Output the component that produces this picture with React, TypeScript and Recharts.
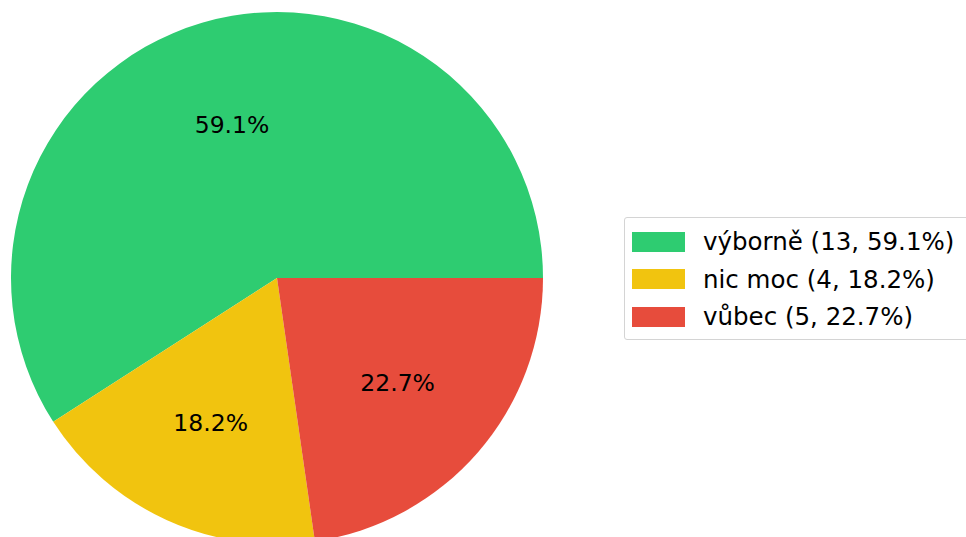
import { Cell, Legend, Pie, PieChart } from 'recharts';

const categories = ['výborně', 'nic moc', 'vůbec'];
const counts = [13, 4, 5];
const colors = ['#2ecc71', '#f1c40f', '#e74c3c'];

const total = counts.reduce((a, b) => a + b, 0);
const pct = (v: number) => ((v / total) * 100).toFixed(1) + '%';

const chartData = categories.map((name, i) => ({
  name,
  value: counts[i],
  color: colors[i],
}));

const FONT = '"DejaVu Sans", sans-serif';
const RAD = Math.PI / 180;

function renderLabel(props: any) {
  const { cx, cy, midAngle, outerRadius, value } = props;
  const r = outerRadius * 0.6;
  const x = cx + r * Math.cos(-midAngle * RAD);
  const y = cy + r * Math.sin(-midAngle * RAD);
  return (
    <text x={x} y={y} fill="#000" fontSize={23.5} fontFamily={FONT} textAnchor="middle" dominantBaseline="central">
      {pct(value)}
    </text>
  );
}

function LegendBox() {
  return (
    <div
      style={{
        width: 345,
        height: 123,
        boxSizing: 'border-box',
        border: '1px solid #d4d4d4',
        borderRadius: 3,
        background: '#fff',
        paddingTop: 5,
        fontFamily: FONT,
        fontSize: 24.5,
        color: '#000',
      }}
    >
      {chartData.map((d) => (
        <div key={d.name} style={{ display: 'flex', alignItems: 'center', height: 37.5, marginLeft: 7 }}>
          <div style={{ width: 53, height: 20, background: d.color, marginRight: 18 }} />
          <span style={{ whiteSpace: 'nowrap' }}>
            {d.name} ({d.value}, {pct(d.value)})
          </span>
        </div>
      ))}
    </div>
  );
}

export default function App() {
  return (
    <div style={{ position: 'absolute', left: 0, top: 0, width: 966, height: 537, overflow: 'hidden', background: '#fff' }}>
      <PieChart width={966} height={537} margin={{ top: 0, right: 0, bottom: 0, left: 0 }}>
        <Pie
          data={chartData}
          dataKey="value"
          nameKey="name"
          cx={277}
          cy={278}
          innerRadius={0}
          outerRadius={266}
          startAngle={0}
          endAngle={360}
          label={renderLabel}
          labelLine={false}
          stroke="none"
          isAnimationActive={false}
        >
          {chartData.map((d) => (
            <Cell key={d.name} fill={d.color} />
          ))}
        </Pie>
        <Legend content={() => <LegendBox />} wrapperStyle={{ position: 'absolute', left: 624, top: 217, width: 345 }} />
      </PieChart>
    </div>
  );
}
